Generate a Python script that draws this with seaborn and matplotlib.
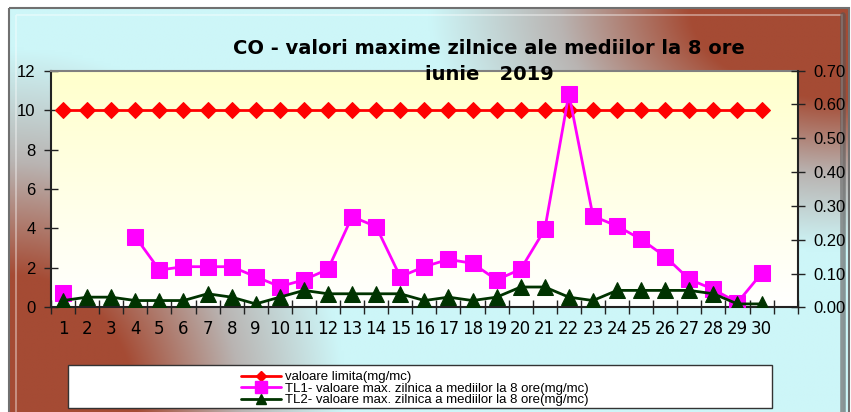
import numpy as np
import pandas as pd
import seaborn as sns
from matplotlib import pyplot as plt
from matplotlib.lines import Line2D
from matplotlib.patches import Rectangle
from matplotlib.ticker import FixedLocator, FormatStrFormatter


# --- Data ---
days = list(range(1, 31))
limit_value = [10] * 30
tl1_values = [0.71, None, None, 3.58, 1.89, 2.06, 2.06, 2.06, 1.55, 1.05,
              1.39, 1.93, 4.60, 4.09, 1.55, 2.06, 2.43, 2.23, 1.39, 1.93,
              3.95, 10.82, 4.63, 4.12, 3.45, 2.57, 1.42, 0.91, 0.24, 1.72]
tl2_values = [0.02, 0.03, 0.03, 0.02, 0.02, 0.02, 0.04, 0.03, 0.01, 0.03,
              0.05, 0.04, 0.04, 0.04, 0.04, 0.02, 0.03, 0.02, 0.03, 0.06,
              0.06, 0.03, 0.02, 0.05, 0.05, 0.05, 0.05, 0.04, 0.01, 0.01]
left_ticks = [0, 2, 4, 6, 8, 10, 12]
right_ticks = [0.0, 0.1, 0.2, 0.3, 0.4, 0.5, 0.6, 0.7]
series_labels = ["valoare limita(mg/mc)",
                 "TL1- valoare max. zilnica a mediilor la 8 ore(mg/mc)",
                 "TL2- valoare max. zilnica a mediilor la 8 ore(mg/mc)"]
title_lines = ["CO - valori maxime zilnice ale mediilor la 8 ore", "iunie   2019"]

RED, MAGENTA, GREEN = "#ff0000", "#ff00ff", "#003300"


def segments(values):
    """Split a series with gaps into numbered runs so the gaps stay open."""
    seg, out, prev = 0, [], True
    for v in values:
        if v is None:
            prev = True
            out.append(np.nan)
            continue
        if prev:
            seg += 1
        prev = False
        out.append(seg)
    return out


df = pd.DataFrame({"day": days, "limit": limit_value,
                   "tl1": [np.nan if v is None else v for v in tl1_values],
                   "tl2": tl2_values})
df["seg"] = segments(tl1_values)

sns.set_theme(style="white")
plt.rcParams['font.family'] = ['Liberation Sans', 'DejaVu Sans']
plt.rcParams['text.color'] = 'black'
plt.rcParams['xtick.color'] = 'black'
plt.rcParams['ytick.color'] = 'black'

W, H = 851, 412
fig = plt.figure(figsize=(W / 100, H / 100), dpi=100)
fig.patch.set_facecolor("white")

# --- background frame: cyan with brown glow in two opposite corners ---
bg = fig.add_axes([0, 0, 1, 1], zorder=-10)
bg.set_xlim(0, W)
bg.set_ylim(H, 0)
bg.axis("off")
u, w = np.meshgrid(np.linspace(0, 1, 300), np.linspace(0, 1, 150))
r1 = np.sqrt(((1 - u) / 0.5) ** 2 + (w / 0.6) ** 2)
r2 = np.sqrt((u / 0.4) ** 2 + ((1 - w) / 0.9) ** 2)
t = np.clip(np.maximum(1 - r1, 1 - r2) * 1.6, 0, 1)
cyan = np.array([205, 246, 248]) / 255
gray = np.array([185, 180, 178]) / 255
brown = np.array([165, 75, 52]) / 255
t3 = t[..., None]
img = np.where(t3 < 0.5,
               cyan * (1 - 2 * t3) + gray * 2 * t3,
               gray * (2 - 2 * t3) + brown * (2 * t3 - 1))
bg.imshow(img, extent=[9, 849, 412, 8], aspect="auto", interpolation="bilinear")
bg.add_patch(Rectangle((9, 8), 840, 410, fill=False, ec="#707070", lw=1.5))
bg.add_patch(Rectangle((16, 15), 826, 400, fill=False, ec="white", lw=1.2, alpha=0.45))
bg.plot([843, 843], [15, 412], color="#555555", lw=4, alpha=0.6)

# --- main axes ---
ax = fig.add_axes([51 / W, 1 - 307.3 / H, 746.7 / W, 236.6 / H])
ax.set_facecolor("none")
grad = np.linspace(0, 1, 100)[:, None]
yellow = np.array([1.0, 1.0, 0.80])
plot_bg = yellow[None, None, :] * (1 - grad[..., None]) + np.ones(3)[None, None, :] * grad[..., None]
ax.imshow(plot_bg, extent=[0, 1, 0, 1], transform=ax.transAxes, aspect="auto", zorder=0)

sns.lineplot(data=df, x="day", y="limit", ax=ax, color=RED, marker="D", markersize=8,
             markeredgecolor=RED, linewidth=2, zorder=3)
sns.lineplot(data=df.dropna(subset=["tl1"]), x="day", y="tl1", units="seg", estimator=None,
             ax=ax, color=MAGENTA, marker="s", markersize=12, markeredgecolor=MAGENTA,
             linewidth=2, zorder=4)

ax.set_xlim(0.5, 31.5)
ax.set_ylim(0, 12)
ax.set_xlabel("")
ax.set_ylabel("")
ax.set_yticks(left_ticks)
ax.set_xticks(days)
ax.set_xticklabels([str(d) for d in days], family="DejaVu Sans", fontsize=12)
ax.xaxis.set_minor_locator(FixedLocator(np.arange(0.5, 32, 1)))
ax.tick_params(axis="x", which="major", length=0, pad=9)
ax.tick_params(axis="x", which="minor", direction="inout", length=10, width=1, color="#222222",
               bottom=True)
ax.tick_params(axis="y", direction="inout", length=10, width=1, color="#222222", left=True,
               labelsize=12, pad=6)
for side in ["left", "bottom"]:
    ax.spines[side].set_color("#222222")
    ax.spines[side].set_linewidth(1.5)
ax.spines["top"].set_color("#808080")
ax.spines["top"].set_linewidth(1.5)
ax.spines["right"].set_visible(False)

# --- secondary axis for TL2 ---
ax2 = ax.twinx()
sns.lineplot(data=df, x="day", y="tl2", ax=ax2, color=GREEN, marker="^", markersize=12,
             markeredgecolor=GREEN, linewidth=2, zorder=5)
ax2.set_ylim(0, 0.7)
ax2.set_yticks(right_ticks)
ax2.yaxis.set_major_formatter(FormatStrFormatter("%.2f"))
ax2.set_ylabel("")
ax2.tick_params(axis="y", direction="inout", length=10, width=1, color="#222222", right=True,
                labelsize=12, pad=6)
for side in ["left", "bottom", "top"]:
    ax2.spines[side].set_visible(False)
ax2.spines["right"].set_color("#222222")
ax2.spines["right"].set_linewidth(1.5)

# --- title ---
fig.text(489 / W, 1 - 48 / H, title_lines[0], ha="center", va="center", family="DejaVu Sans",
         fontsize=14, fontweight="bold", color="black", zorder=10)
fig.text(489 / W, 1 - 75 / H, title_lines[1], ha="center", va="center", family="DejaVu Sans",
         fontsize=14, fontweight="bold", color="black", zorder=10)

# --- legend ---
fig.patches.append(Rectangle((68 / W, 4 / H), 704 / W, 43 / H, transform=fig.transFigure,
                             fc="white", ec="#333333", lw=1, zorder=5))
handles = [Line2D([], [], color=RED, marker="D", markersize=5, lw=2),
           Line2D([], [], color=MAGENTA, marker="s", markersize=8, lw=2),
           Line2D([], [], color=GREEN, marker="^", markersize=7, lw=2)]
leg = fig.legend(handles, series_labels, loc="upper left", bbox_to_anchor=(232 / W, 1 - 362 / H),
                 frameon=False, handlelength=3.0, handleheight=0.5, handletextpad=0.3,
                 labelspacing=-0.05, borderpad=0.2,
                 prop={"family": ["Liberation Sans"], "size": 9.5})
leg.set_zorder(6)

fig.savefig("out.png", dpi=100)
